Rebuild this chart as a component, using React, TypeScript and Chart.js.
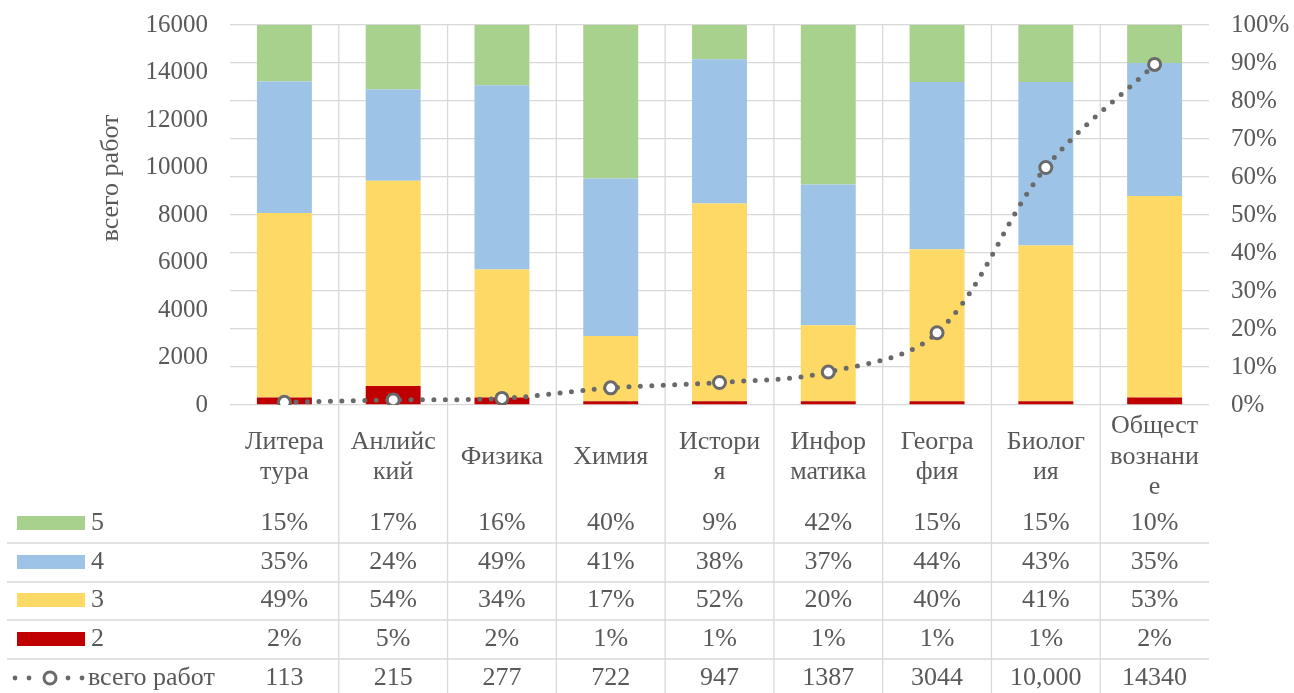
import React, { useEffect, useRef } from "react";
import { Chart, registerables } from "chart.js";

Chart.register(...registerables);

// ---- data ----
const categoryLines: string[][] = [
  ["Литера", "тура"],
  ["Анлийс", "кий"],
  ["Физика"],
  ["Химия"],
  ["Истори", "я"],
  ["Инфор", "матика"],
  ["Геогра", "фия"],
  ["Биолог", "ия"],
  ["Общест", "вознани", "е"],
];
const grade5 = [15, 17, 16, 40, 9, 42, 15, 15, 10];
const grade4 = [35, 24, 49, 41, 38, 37, 44, 43, 35];
const grade3 = [49, 54, 34, 17, 52, 20, 40, 41, 53];
const grade2 = [2, 5, 2, 1, 1, 1, 1, 1, 2];
const totalWorks = [113, 215, 277, 722, 947, 1387, 3044, 10000, 14340];
const totalLabels = ["113", "215", "277", "722", "947", "1387", "3044", "10,000", "14340"];
const seriesNames = ["5", "4", "3", "2"];
const lineName = "всего работ";
const leftAxisTitle = "всего работ";

const COLORS = {
  g5: "#A9D18E",
  g4: "#9DC3E6",
  g3: "#FFD966",
  g2: "#C00000",
  line: "#6A6A6A",
  text: "#595959",
  grid: "#D9D9D9",
};
const FONT = "Liberation Serif";
const FS = 25;
const TFS = 26;

const sums = grade2.map((_, i) => grade2[i] + grade3[i] + grade4[i] + grade5[i]);
const norm = (arr: number[]) => arr.map((v, i) => (v / sums[i]) * 100);

const tablePlugin = {
  id: "dataTable",
  beforeDatasetsDraw(chart: any) {
    const ctx = chart.ctx;
    const x = chart.scales.x;
    const area = chart.chartArea;
    ctx.save();
    ctx.strokeStyle = COLORS.grid;
    ctx.lineWidth = 1.3;
    for (let i = 0; i < categoryLines.length - 1; i++) {
      const bx = (x.getPixelForValue(i) + x.getPixelForValue(i + 1)) / 2;
      ctx.beginPath();
      ctx.moveTo(bx, area.top);
      ctx.lineTo(bx, chart.height);
      ctx.stroke();
    }
    ctx.restore();
  },
  afterDraw(chart: any) {
    const ctx = chart.ctx;
    const x = chart.scales.x;
    const area = chart.chartArea;
    ctx.save();
    ctx.fillStyle = COLORS.text;
    ctx.font = `${TFS}px "${FONT}"`;
    ctx.textAlign = "center";
    ctx.textBaseline = "middle";

    // category labels
    const catCenter = 457;
    const lh = 30.5;
    categoryLines.forEach((lines, i) => {
      const cx = x.getPixelForValue(i);
      const start = catCenter - ((lines.length - 1) * lh) / 2;
      lines.forEach((t, k) => ctx.fillText(t, cx, start + k * lh));
    });

    // horizontal separators
    const rowY = [523, 562, 600, 639, 678];
    const seps = [543, 582, 620, 659];
    ctx.strokeStyle = COLORS.grid;
    ctx.lineWidth = 1.3;
    seps.forEach((y) => {
      ctx.beginPath();
      ctx.moveTo(7, y);
      ctx.lineTo(area.right, y);
      ctx.stroke();
    });

    const rows = [grade5, grade4, grade3, grade2];
    const rowColors = [COLORS.g5, COLORS.g4, COLORS.g3, COLORS.g2];
    rows.forEach((arr, r) => {
      const y = rowY[r];
      ctx.fillStyle = rowColors[r];
      ctx.fillRect(17, y - 7, 68, 14);
      ctx.fillStyle = COLORS.text;
      ctx.textAlign = "left";
      ctx.fillText(seriesNames[r], 91, y);
      ctx.textAlign = "center";
      arr.forEach((v, i) => ctx.fillText(`${v}%`, x.getPixelForValue(i), y));
    });

    // line row
    const ly = rowY[4];
    ctx.fillStyle = COLORS.line;
    [15, 29, 68, 82].forEach((dx) => {
      ctx.beginPath();
      ctx.arc(dx, ly, 2.4, 0, Math.PI * 2);
      ctx.fill();
    });
    ctx.beginPath();
    ctx.arc(50, ly, 6, 0, Math.PI * 2);
    ctx.fillStyle = "#ffffff";
    ctx.fill();
    ctx.lineWidth = 3;
    ctx.strokeStyle = COLORS.line;
    ctx.stroke();
    ctx.fillStyle = COLORS.text;
    ctx.textAlign = "left";
    ctx.fillText(lineName, 88, ly);
    ctx.textAlign = "center";
    totalLabels.forEach((t, i) => ctx.fillText(t, x.getPixelForValue(i), ly));

    // left axis title
    ctx.save();
    ctx.translate(111, 178);
    ctx.rotate(-Math.PI / 2);
    ctx.fillText(leftAxisTitle, 0, 0);
    ctx.restore();

    ctx.restore();
  },
};

export default function App() {
  const ref = useRef<HTMLCanvasElement | null>(null);
  useEffect(() => {
    if (!ref.current) return;
    const tickFont = { family: FONT, size: FS };
    const chart = new Chart(ref.current, {
      type: "bar",
      data: {
        labels: categoryLines.map((l) => l.join("")),
        datasets: [
          {
            type: "line",
            label: lineName,
            data: totalWorks,
            yAxisID: "y",
            stack: "line",
            order: 0,
            borderColor: COLORS.line,
            borderWidth: 5,
            borderDash: [0, 11.5],
            borderCapStyle: "round",
            tension: 0.35,
            pointRadius: 6,
            pointBorderWidth: 3,
            pointBackgroundColor: "#ffffff",
            pointBorderColor: COLORS.line,
            fill: false,
          } as any,
          { label: seriesNames[3], data: norm(grade2), backgroundColor: COLORS.g2, yAxisID: "y1", stack: "s", order: 1 },
          { label: seriesNames[2], data: norm(grade3), backgroundColor: COLORS.g3, yAxisID: "y1", stack: "s", order: 1 },
          { label: seriesNames[1], data: norm(grade4), backgroundColor: COLORS.g4, yAxisID: "y1", stack: "s", order: 1 },
          { label: seriesNames[0], data: norm(grade5), backgroundColor: COLORS.g5, yAxisID: "y1", stack: "s", order: 1 },
        ],
      },
      options: {
        animation: false,
        responsive: false,
        maintainAspectRatio: false,
        layout: { padding: { top: 25, bottom: 288, left: 0, right: 0 } },
        datasets: { bar: { barPercentage: 0.505, categoryPercentage: 1 } },
        plugins: { legend: { display: false }, tooltip: { enabled: false } },
        scales: {
          x: { display: false, stacked: true, grid: { display: false } },
          y: {
            position: "left",
            min: 0,
            max: 16000,
            ticks: { stepSize: 2000, font: tickFont, color: COLORS.text, padding: 22, callback: (v: any) => String(v) },
            grid: { display: false, drawTicks: false },
            border: { display: false },
            afterFit: (s: any) => { s.width = 230; s.paddingTop = 0; s.paddingBottom = 0; },
          },
          y1: {
            position: "right",
            stacked: true,
            min: 0,
            max: 100,
            ticks: { stepSize: 10, font: tickFont, color: COLORS.text, padding: 22, callback: (v: any) => `${v}%` },
            grid: { color: COLORS.grid, lineWidth: 1.3, drawTicks: false },
            border: { display: false },
            afterFit: (s: any) => { s.width = 85; s.paddingTop = 0; s.paddingBottom = 0; },
          },
        },
      } as any,
      plugins: [tablePlugin],
    });
    return () => chart.destroy();
  }, []);
  return (
    <div style={{ position: "absolute", left: 0, top: 0, width: 1294, height: 693, background: "#fff" }}>
      <canvas ref={ref} width={1294} height={693} style={{ width: 1294, height: 693, display: "block" }} />
    </div>
  );
}
